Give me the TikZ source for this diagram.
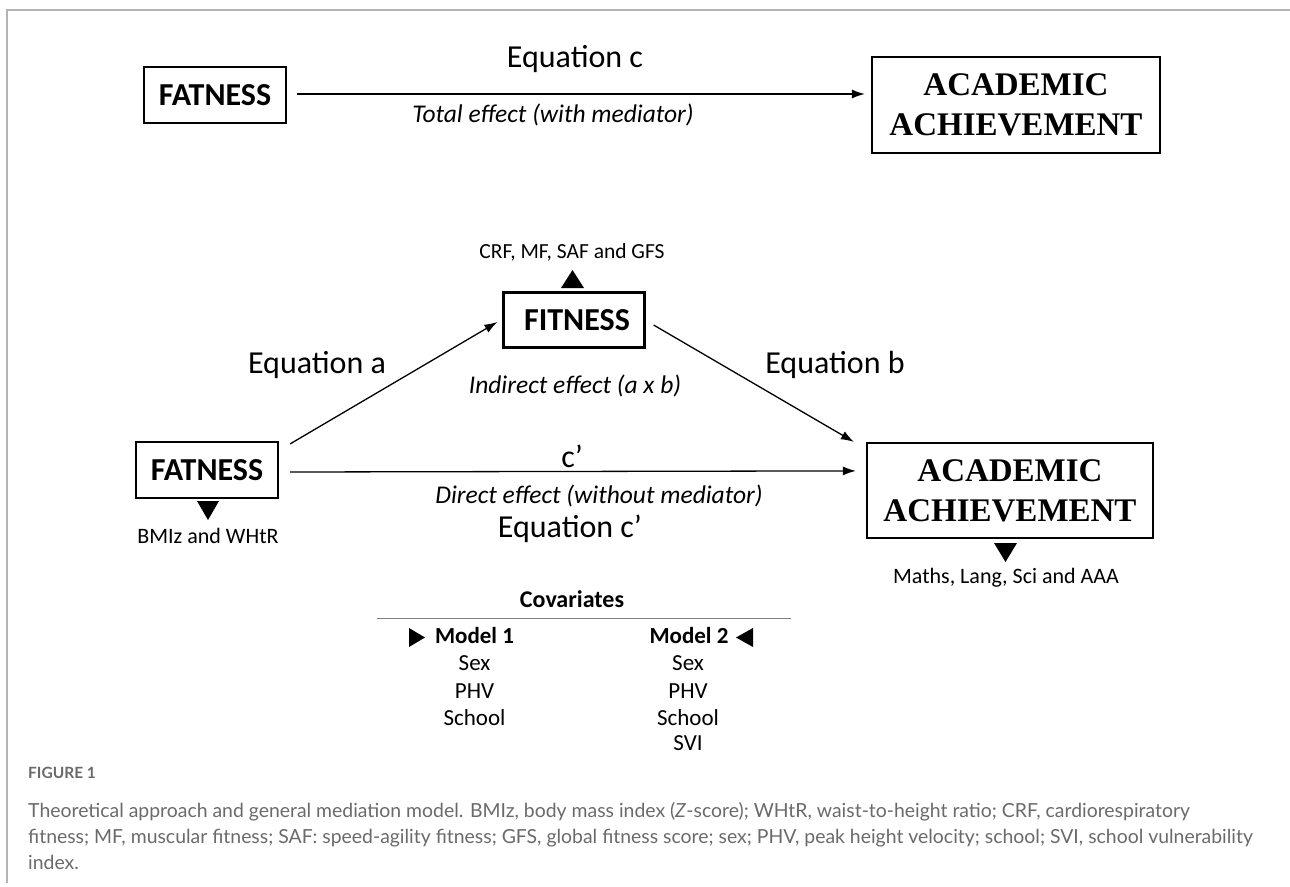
\documentclass[tikz,border=0pt]{standalone}
\usepackage{fontspec}
\setmainfont{Carlito}
\newfontfamily\serifb{Liberation Serif}
\newfontfamily\capfont{Lato}
\usetikzlibrary{arrows.meta,calc}
\definecolor{capgray}{HTML}{6A6A6A}
\definecolor{framegray}{HTML}{B4B4B4}
\tikzset{
  varbox/.style={draw, line width=2.2pt, inner sep=0pt, align=center},
  sansbox/.style={varbox, font=\bfseries\fontsize{32}{38}\selectfont},
  serifbox/.style={varbox, font=\serifb\bfseries\fontsize{33}{40}\selectfont},
  eqlabel/.style={anchor=base, inner sep=0pt, font=\fontsize{32}{38}\selectfont},
  efflabel/.style={anchor=base, inner sep=0pt, font=\itshape\fontsize{25.5}{30}\selectfont},
  measlabel/.style={anchor=base, inner sep=0pt, font=\fontsize{22}{26}\selectfont},
  covlabel/.style={anchor=base, inner sep=0pt, font=\fontsize{23}{27}\selectfont},
  covhead/.style={anchor=base, inner sep=0pt, font=\bfseries\fontsize{23}{27}\selectfont},
  arr/.style={line width=1.3pt, -{Latex[length=13pt,width=9pt]}},
  marker/.style={fill=black},
  captext/.style={anchor=base west, inner sep=0pt, text=capgray, font=\capfont\fontsize{19.4}{23}\selectfont},
}
\begin{document}
\begin{tikzpicture}[x=1pt,y=-1pt]
\useasboundingbox (0,0) rectangle (1290,886);
% frame
\draw[framegray, line width=2pt] (7,883) -- (7,10) -- (1290,10);

% ---------- top row ----------
\node[sansbox, minimum width=142, minimum height=56] (fat1) at (215,95) {FATNESS};
\node[serifbox, minimum width=288, minimum height=96] (aa1) at (1016,105) {ACADEMIC\\ACHIEVEMENT};
\coordinate (t0) at ($(fat1.east)+(10,-1)$);
\coordinate (t1) at ($(aa1.west)+(-6,-11)$);
\draw[arr] (t0) -- (t1);
\node[eqlabel] (eqc) at (575,67) {Equation c};
\node[efflabel] (tot) at (553,122) {Total effect (with mediator)};

% ---------- mediation model ----------
\node[sansbox, minimum width=142, minimum height=56] (fat2) at (207,470) {FATNESS};
\node[sansbox, minimum width=141, minimum height=55] (fit) at (574,320) {\hspace*{6pt}FITNESS};
\node[serifbox, minimum width=286, minimum height=95] (aa2) at (1010,490.5) {ACADEMIC\\ACHIEVEMENT};

\coordinate (a0) at ($(fat2.north east)+(11,3)$);
\coordinate (a1) at ($(fit.west)+(-5,2)$);
\coordinate (b0) at ($(fit.east)+(8,5)$);
\coordinate (b1) at ($(aa2.north west)+(-12,0)$);
\coordinate (d0) at ($(fat2.east)+(11,2)$);
\coordinate (d1) at ($(aa2.north west)+(-10,29)$);
\draw[arr] (a0) -- (a1);
\draw[arr] (b0) -- (b1);
\draw[arr] (d0) -- (d1);

\node[measlabel, font=\fontsize{21.5}{26}\selectfont] (crf) at (572,258) {CRF, MF, SAF and GFS};
\node[eqlabel] (eqa) at (317,373) {Equation a};
\node[eqlabel] (eqb) at (835,373) {Equation b};
\node[efflabel] (ind) at (575,393) {Indirect effect (a x b)};
\node[eqlabel] (cp) at (572,467) {c’};
\node[efflabel] (dir) at (599,503) {Direct effect (without mediator)};
\node[eqlabel] (eqcp) at (570,537) {Equation c’};
\node[measlabel] (bmi) at (208,543) {BMIz and WHtR};
\node[measlabel] (maths) at (1006,583) {Maths, Lang, Sci and AAA};

% markers
\fill[marker] (561,288) -- (584,288) -- (572.5,270) -- cycle;
\fill[marker] (197,501) -- (219,501) -- (208,520) -- cycle;
\fill[marker] (994,543) -- (1017,543) -- (1005.5,562) -- cycle;

% ---------- covariates ----------
\node[covhead, font=\bfseries\fontsize{24}{28}\selectfont] (cov) at (572,607) {Covariates};
\coordinate (r0) at (377,618);
\coordinate (r1) at (791,618);
\draw[gray, line width=1pt] (r0) -- (r1);
\node[covhead] (m1) at (474.5,643) {Model 1};
\node[covhead] (m2) at (689,643) {Model 2};
\fill[marker] (409,628) -- (409,647) -- (425,637.5) -- cycle;
\fill[marker] (753,628) -- (753,647) -- (736,637.5) -- cycle;
\node[covlabel] (s1) at (474.5,670) {Sex};
\node[covlabel] (p1) at (474.5,698) {PHV};
\node[covlabel] (h1) at (474.5,725) {School};
\node[covlabel] (s2) at (688,670) {Sex};
\node[covlabel] (p2) at (688,698) {PHV};
\node[covlabel] (h2) at (688,725) {School};
\node[covlabel] (v2) at (688,750) {SVI};

% ---------- caption ----------
\node[captext, font=\capfont\bfseries\fontsize{15.5}{18}\selectfont] (fig) at (28,778) {FIGURE 1};
\node[captext] (c1) at (28,817) {Theoretical approach and general mediation model. BMIz, body mass index (\textit{Z}-score); WHtR, waist-to-height ratio; CRF, cardiorespiratory};
\node[captext] (c2) at (28,843) {fitness; MF, muscular fitness; SAF: speed-agility fitness; GFS, global fitness score; sex; PHV, peak height velocity; school; SVI, school vulnerability};
\node[captext] (c3) at (28,869) {index.};
\end{tikzpicture}
\end{document}
